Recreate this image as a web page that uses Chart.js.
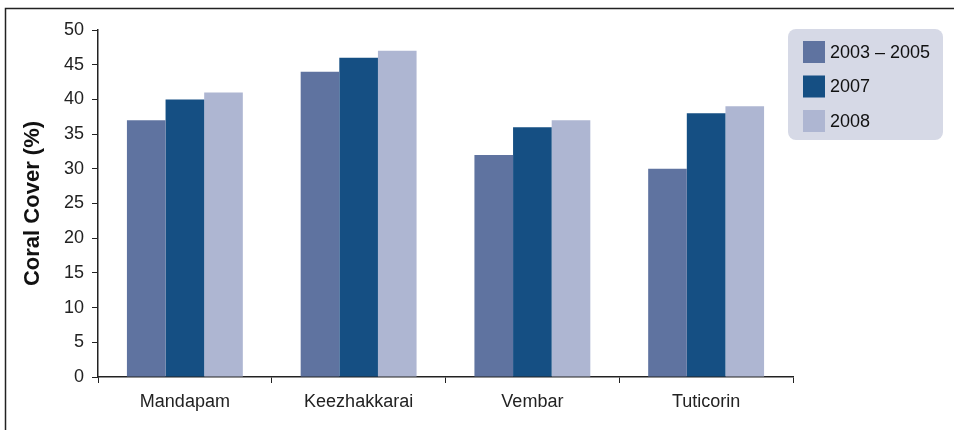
<!DOCTYPE html>
<html>
<head>
<meta charset="utf-8">
<script src="https://cdn.jsdelivr.net/npm/chart.js@4"></script>
<style>
  html, body { margin: 0; padding: 0; background: #fff; }
  #wrap { width: 954px; height: 430px; position: relative; }
</style>
</head>
<body>
<div id="wrap"><canvas id="coralChart"></canvas></div>
<script>
const sites = ['Mandapam', 'Keezhakkarai', 'Vembar', 'Tuticorin'];
const seriesNames = ['2003 – 2005', '2007', '2008'];
const cover0305 = [37, 44, 32, 30];
const cover2007 = [40, 46, 36, 38];
const cover2008 = [41, 47, 37, 39];
const seriesColors = ['#5f73a0', '#154f83', '#aeb6d2'];

const FONT = '"Liberation Sans", Arial, sans-serif';

// frame lines (top + left) and the rounded legend box
const framePlugin = {
  id: 'frame',
  afterDraw(chart) {
    const ctx = chart.ctx;
    ctx.save();
    ctx.strokeStyle = '#222';
    ctx.lineWidth = 1.5;
    ctx.beginPath();
    ctx.moveTo(5.5, 430);
    ctx.lineTo(5.5, 8.5);
    ctx.lineTo(954, 8.5);
    ctx.stroke();

    // legend
    const bx = 788, by = 29, bw = 155, bh = 111;
    ctx.fillStyle = '#d6d9e6';
    ctx.beginPath();
    ctx.roundRect(bx, by, bw, bh, 8);
    ctx.fill();
    ctx.font = '18px ' + FONT;
    ctx.textBaseline = 'middle';
    chart.data.datasets.forEach((ds, i) => {
      const cy = 52 + i * 34.5;
      ctx.fillStyle = ds.backgroundColor;
      ctx.fillRect(803, cy - 11, 22, 22);
      ctx.fillStyle = '#111';
      ctx.fillText(ds.label, 830, cy + 1);
    });
    ctx.restore();
  }
};

new Chart(document.getElementById('coralChart'), {
  type: 'bar',
  data: {
    labels: sites,
    datasets: [
      { label: seriesNames[0], data: cover0305, backgroundColor: seriesColors[0] },
      { label: seriesNames[1], data: cover2007, backgroundColor: seriesColors[1] },
      { label: seriesNames[2], data: cover2008, backgroundColor: seriesColors[2] }
    ]
  },
  options: {
    responsive: true,
    maintainAspectRatio: false,
    animation: false,
    datasets: { bar: { categoryPercentage: 0.667, barPercentage: 1 } },
    layout: { padding: { left: 0, top: 30, right: 161, bottom: 0 } },
    scales: {
      x: {
        grid: { drawOnChartArea: false, tickLength: 6, color: '#222', offset: true },
        border: { color: '#222', width: 1.5 },
        ticks: { color: '#222', font: { size: 18, family: FONT }, padding: 8, maxRotation: 0 },
        afterFit(scale) { scale.height = 53; }
      },
      y: {
        min: 0, max: 50,
        ticks: { stepSize: 5, color: '#222', font: { size: 18, family: FONT }, padding: 8 },
        grid: { drawOnChartArea: false, tickLength: 6, color: '#222' },
        border: { color: '#222', width: 1.5 },
        title: {
          display: true,
          text: 'Coral Cover (%)',
          color: '#111',
          font: { size: 22, weight: 'bold', family: FONT },
          padding: { top: 20, bottom: 0 }
        },
        afterFit(scale) { scale.width = 98; }
      }
    },
    plugins: {
      legend: { display: false },
      tooltip: { enabled: false }
    }
  },
  plugins: [framePlugin]
});
</script>
</body>
</html>
